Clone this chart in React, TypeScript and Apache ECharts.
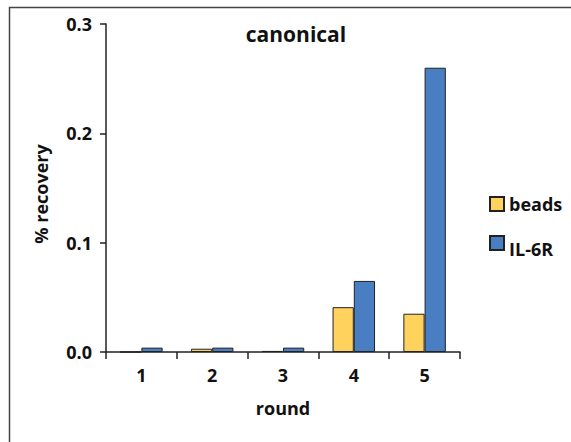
import React, { useEffect, useRef } from "react";
import * as echarts from "echarts";

const rounds = ["1", "2", "3", "4", "5"];
const beads = [0, 0.003, 0.001, 0.041, 0.035];
const il6r = [0.004, 0.004, 0.004, 0.065, 0.26];
const seriesNames = ["beads", "IL-6R"];
const titleText = "canonical";
const yName = "% recovery";
const xName = "round";

const FONT = "'Open Sans', 'Noto Sans', sans-serif";

export default function App() {
  const ref = useRef<HTMLDivElement>(null);
  useEffect(() => {
    if (!ref.current) return;
    const chart = echarts.init(ref.current, undefined, { renderer: "svg" });
    chart.setOption({
      animation: false,
      backgroundColor: "#fff",
      textStyle: { fontFamily: FONT },
      graphic: [
        {
          type: "rect",
          left: 7,
          top: 5,
          shape: { x: 0, y: 0, width: 600, height: 460 },
          style: { fill: "none", stroke: "#444", lineWidth: 1.5 },
          silent: true,
          z: -1,
        },
      ],
      title: {
        text: titleText,
        left: 291,
        top: 18,
        textAlign: "center",
        textStyle: { fontFamily: FONT, fontWeight: "bold", fontSize: 21, color: "#111" },
      },
      legend: {
        orient: "vertical",
        left: 484,
        top: 190,
        itemWidth: 14,
        itemHeight: 14,
        itemGap: 22,
        icon: "rect",
        formatter: (name: string) => (name === seriesNames[1] ? "{low|" + name + "}" : "{n|" + name + "}"),
        textStyle: {
          fontFamily: FONT,
          fontWeight: "bold",
          fontSize: 18,
          color: "#111",
          rich: {
            n: { fontFamily: FONT, fontWeight: "bold", fontSize: 18, color: "#111" },
            low: { fontFamily: FONT, fontWeight: "bold", fontSize: 18, color: "#111", padding: [12, 0, 0, 0] },
          },
        },
        data: seriesNames,
      },
      grid: { left: 106, top: 24, right: 111, bottom: 90 },
      xAxis: {
        type: "category",
        data: rounds,
        name: xName,
        nameLocation: "middle",
        nameGap: 47,
        nameTextStyle: { fontFamily: FONT, fontWeight: "bold", fontSize: 18, color: "#111" },
        axisLine: { lineStyle: { color: "#222", width: 1.5 } },
        axisTick: { show: true, length: 7, alignWithLabel: false, lineStyle: { color: "#222", width: 1.5 } },
        axisLabel: { fontFamily: FONT, fontWeight: "bold", fontSize: 18, color: "#111", margin: 14 },
      },
      yAxis: {
        type: "value",
        min: 0,
        max: 0.3,
        interval: 0.1,
        name: yName,
        nameLocation: "middle",
        nameRotate: 90,
        nameGap: 56,
        nameTextStyle: {
          fontFamily: FONT,
          fontWeight: "bold",
          fontSize: 18,
          color: "#111",
          padding: [0, 12, 0, 0],
        },
        splitLine: { show: false },
        axisLine: { show: true, lineStyle: { color: "#222", width: 1.5 } },
        axisTick: { show: true, length: 6, lineStyle: { color: "#222", width: 1.5 } },
        axisLabel: {
          fontFamily: FONT,
          fontWeight: "bold",
          fontSize: 18,
          color: "#111",
          margin: 14,
          formatter: (v: number) => v.toFixed(1),
        },
      },
      series: [
        {
          name: seriesNames[0],
          type: "bar",
          data: beads,
          barGap: "0%",
          barCategoryGap: "40%",
          itemStyle: { color: "#FFD25E", borderColor: "#222", borderWidth: 1 },
        },
        {
          name: seriesNames[1],
          type: "bar",
          data: il6r,
          barGap: "0%",
          barCategoryGap: "40%",
          itemStyle: { color: "#4A7EC2", borderColor: "#222", borderWidth: 1 },
        },
      ],
    });
    return () => chart.dispose();
  }, []);
  return (
    <div
      ref={ref}
      style={{ position: "fixed", left: 0, top: 0, width: 571, height: 442 }}
    />
  );
}
